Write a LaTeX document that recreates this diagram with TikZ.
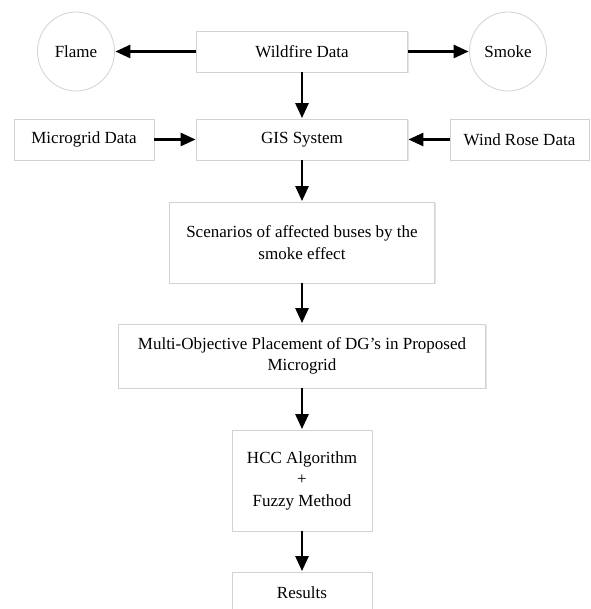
\documentclass[tikz,border=0pt]{standalone}
\usepackage{fontspec}
\setmainfont{Liberation Serif}
\usetikzlibrary{arrows.meta,shapes.geometric,shadows}
\begin{document}
\begin{tikzpicture}[x=1pt,y=-1pt,
  box/.style={draw=gray!35,line width=0.8pt,fill=white,rectangle,inner sep=0pt,align=center,
    font=\fontsize{17}{21.5}\selectfont,
    drop shadow={shadow xshift=1pt,shadow yshift=-1pt,fill=black,opacity=0.1}},
  oval/.style={draw=gray!35,line width=0.8pt,fill=white,ellipse,inner sep=0pt,
    minimum width=77pt,minimum height=79pt,font=\fontsize{17}{21.5}\selectfont},
  arr/.style={-{Triangle[length=15pt,width=13pt]},line width=2.7pt,shorten >=0.5pt}]
\useasboundingbox (0,0) rectangle (590,609);
\clip (0,0) rectangle (590,609);
\node[box,minimum width=211pt,minimum height=41pt] (wild) at (302,51.5) {Wildfire Data};
\node[oval] (flame) at (76,51.5) {Flame};
\node[oval] (smoke) at (508,51.5) {Smoke};
\node[box,minimum width=211pt,minimum height=41pt] (gis) at (302,139.5) {GIS System};
\node[box,minimum width=140pt,minimum height=41pt] (micro) at (84,139.5) {Microgrid Data};
\node[box,minimum width=139pt,minimum height=41pt] (wind) at (519.5,139.5) {Wind Rose Data};
\node[box,minimum width=265pt,minimum height=81pt] (scen) at (302,242.5) {Scenarios of affected buses by the\\smoke effect};
\node[box,minimum width=367pt,minimum height=64pt] (mop) at (302,356) {Multi-Objective Placement of DG’s in Proposed\\Microgrid};
\node[box,minimum width=140pt,minimum height=101pt] (hcc) at (302,480.5) {HCC Algorithm\\+\\Fuzzy Method};
\node[box,minimum width=140pt,minimum height=41pt] (res) at (302,592.5) {Results};
\draw[arr] (wild.west) -- (flame.east);
\draw[arr] (wild.east) -- (smoke.west);
\draw[arr] (wild.south) -- (gis.north);
\draw[arr] (micro.east) -- (gis.west);
\draw[arr] (wind.west) -- (gis.east);
\draw[arr] (gis.south) -- (scen.north);
\draw[arr] (scen.south) -- (mop.north);
\draw[arr] (mop.south) -- (hcc.north);
\draw[arr] (hcc.south) -- (res.north);
\end{tikzpicture}
\end{document}
